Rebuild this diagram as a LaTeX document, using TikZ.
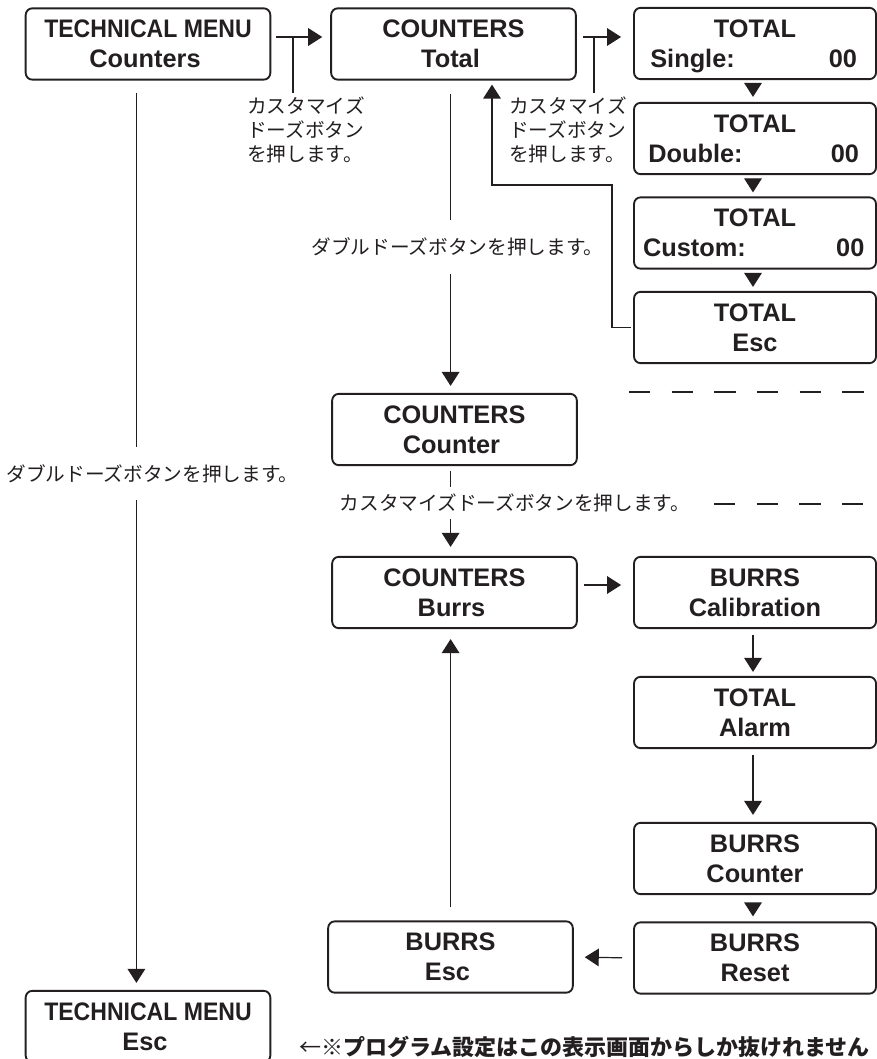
\documentclass[tikz,border=0pt]{standalone}
\usepackage{fontspec}
\setmainfont{Liberation Sans}
\newfontfamily\jpfont{Noto Sans CJK JP}
\usetikzlibrary{arrows.meta}
\definecolor{inkblack}{HTML}{231F20}
\newcommand{\narrowmenu}{\scalebox{0.91}[1]{TECHNICAL MENU}}
\newcommand{\readout}[3]{\smash{\makebox[#1pt]{#2\hfill #3}}\hspace*{2pt}}
\newcommand{\lineleft}[1]{#1\hspace*{4.5pt}}
\tikzset{
    menubox/.style={draw, line width=1.4pt, rounded corners=5pt, align=center, inner sep=0pt,
        minimum width=183.5pt, minimum height=53.5pt,
        font=\fontsize{19}{22.5}\selectfont\bfseries},
    panelbox/.style={menubox, minimum width=181.5pt},
    link/.style={line width=0.9pt},
    flow/.style={link, -{Triangle[length=10.5pt, width=13.2pt]}},
    hint/.style={font=\fontsize{14.75}{18}\selectfont\jpfont, align=left, inner sep=0pt},
    gapa/.style={shorten <=#1*0.75pt},
    gapb/.style={shorten >=#1*0.75pt}
}
\begin{document}
\begin{tikzpicture}[x=0.75pt, y=-0.75pt, color=inkblack]
    \useasboundingbox (0,0) rectangle (876,1059);
    % left column
    \node[menubox] (techcounters) at (148,44) {\narrowmenu\\\lineleft{Counters}};
    \node[menubox] (techesc) at (148,1026.5) {\narrowmenu\\\lineleft{Esc}};
    % middle column
    \node[menubox] (total) at (453.5,44) {COUNTERS\\\lineleft{Total}};
    \node[menubox] (counter) at (454.5,429.5) {COUNTERS\\\lineleft{Counter}};
    \node[menubox] (burrs) at (454.5,592.5) {COUNTERS\\\lineleft{Burrs}};
    \node[menubox] (burrsesc) at (450.5,957) {BURRS\\\lineleft{Esc}};
    % right column
    \node[panelbox] (single) at (755,43.5) {TOTAL\\\readout{155}{Single:}{00}};
    \node[panelbox] (double) at (755,138.5) {TOTAL\\\readout{158}{Double:}{00}};
    \node[panelbox] (custom) at (755,233) {TOTAL\\\readout{166}{Custom:}{00}};
    \node[panelbox] (totalesc) at (755,327.5) {TOTAL\\Esc};
    \node[panelbox] (calibration) at (755,592.5) {BURRS\\Calibration};
    \node[panelbox] (alarm) at (755,712.5) {TOTAL\\Alarm};
    \node[panelbox] (burrscounter) at (755,858.5) {BURRS\\Counter};
    \node[panelbox] (reset) at (755,958) {BURRS\\Reset};
    % hints
    \node[hint, anchor=west, inner ysep=3pt] (hinttech) at (247,130) {カスタマイズ\\ドーズボタン\\を押します。};
    \node[hint, anchor=west, inner ysep=3pt] (hinttotal) at (509,130) {カスタマイズ\\ドーズボタン\\を押します。};
    \node[hint, minimum height=40pt] (hintleft) at (152.5,473.5) {ダブルドーズボタンを押します。};
    \node[hint, minimum height=40pt] (hintmid) at (457.5,247) {ダブルドーズボタンを押します。};
    \node[hint, minimum height=24pt] (hintcounter) at (515,503) {カスタマイズドーズボタンを押します。};
    \node[anchor=west, inner sep=0pt, font=\fontsize{16.5}{20}\selectfont\jpfont] (escnote) at (299,1047) {←※\textbf{プログラム設定はこの表示画面からしか抜けれません}};
    % helper coordinates
    \coordinate (midx) at (450.6,0);
    \coordinate (leftx) at (136.4,0);
    \coordinate (rightx) at (753,0);
    \coordinate (toprow) at (0,37);
    \coordinate (burrsrow) at (0,585);
    \coordinate (dropa) at (293,37);
    \coordinate (dropb) at (594,37);
    \coordinate (backa) at (612,185);
    \coordinate (backb) at (492,185);
    \coordinate (dasha) at (629,392);
    \coordinate (dashb) at (876,392);
    \coordinate (dashc) at (714,504);
    \coordinate (dashd) at (876,504);
    % top row
    \draw[flow, gapa=5, gapb=8] (techcounters.east |- toprow) -- (total.west |- toprow);
    \draw[flow, gapa=6, gapb=12] (total.east |- toprow) -- (single.west |- toprow);
    \draw[link] (dropa) -- (hinttech.north -| dropa);
    \draw[link] (dropb) -- (hinttotal.north -| dropb);
    % left run
    \draw[link, gapa=12] (techcounters.south -| leftx) -- (hintleft.north -| leftx);
    \draw[flow, gapb=7] (hintleft.south -| leftx) -- (techesc.north -| leftx);
    % middle run
    \draw[link, gapa=13] (total.south -| midx) -- (hintmid.north -| midx);
    \draw[flow, gapb=7] (hintmid.south -| midx) -- (counter.north -| midx);
    \draw[link, gapa=5] (counter.south -| midx) -- (hintcounter.north -| midx);
    \draw[flow, gapb=9] (hintcounter.south -| midx) -- (burrs.north -| midx);
    \draw[flow, gapa=6, gapb=12] (burrs.east |- burrsrow) -- (calibration.west |- burrsrow);
    \draw[flow, gapa=13, gapb=10] (burrsesc.north -| midx) -- (burrs.south -| midx);
    % right column, total
    \draw[flow, gapa=4, gapb=5] (single.south -| rightx) -- (double.north -| rightx);
    \draw[flow, gapa=4, gapb=4] (double.south -| rightx) -- (custom.north -| rightx);
    \draw[flow, gapa=4, gapb=4] (custom.south -| rightx) -- (totalesc.north -| rightx);
    \draw[flow, gapa=2, gapb=4] (totalesc.west) -| (backa) -- (backb) -- (backb |- total.south);
    % right column, burrs
    \draw[flow, gapa=6, gapb=4] (calibration.south -| rightx) -- (alarm.north -| rightx);
    \draw[flow, gapa=6, gapb=7] (alarm.south -| rightx) -- (burrscounter.north -| rightx);
    \draw[flow, gapa=9, gapb=5] (burrscounter.south -| rightx) -- (reset.north -| rightx);
    \draw[flow, gapa=11, gapb=11] (reset.west) -- (burrsesc.east);
    % dashes
    \draw[link, dash pattern=on 15.9pt off 16.1pt] (dasha) -- (dashb);
    \draw[link, dash pattern=on 15.9pt off 16.1pt] (dashc) -- (dashd);
\end{tikzpicture}
\end{document}
